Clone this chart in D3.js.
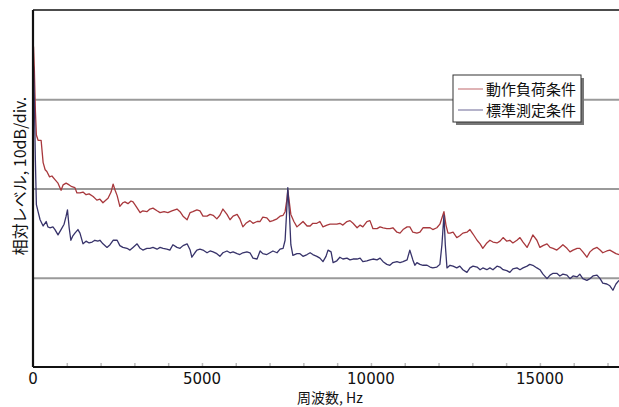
<!DOCTYPE html>
<html>
<head>
<meta charset="utf-8">
<script src="https://cdn.jsdelivr.net/npm/d3@7"></script>
<style>
  html, body { margin: 0; padding: 0; background: #fff; }
  svg { display: block; }
  text { font-family: "Noto Sans CJK JP", "Noto Sans", sans-serif; fill: #111; }
  .tick-label { font-family: "DejaVu Sans", sans-serif; }
  .grid line { stroke: #9a9a9a; stroke-width: 2; }
  .grid path { display: none; }
  .minor line { stroke: #bbb; stroke-width: 1.5; }
  .minor path { display: none; }
</style>
</head>
<body>
<div id="chart"></div>
<script>
// reference levels, dB (relative), frequency in Hz
const seriesNames = ['動作負荷条件', '標準測定条件'];

const loadFreq = [15, 40, 70, 100, 150, 240, 300, 360, 410, 490, 560, 650, 740, 830, 890, 980, 1070, 1150, 1240, 1300,
  1390, 1480, 1570, 1660, 1780, 1890, 1980, 2070, 2160, 2220, 2310, 2370, 2430, 2490, 2570, 2660, 2720, 2810, 2900, 2960,
  3050, 3170, 3250, 3370, 3460, 3550, 3670, 3760, 3880, 3990, 4110, 4260, 4350, 4440, 4560, 4650, 4730, 4850, 4940, 5030,
  5150, 5240, 5330, 5440, 5530, 5620, 5740, 5830, 5920, 6040, 6120, 6210, 6300, 6420, 6510, 6630, 6720, 6800, 6920, 7010,
  7100, 7220, 7310, 7400, 7460, 7510, 7540, 7570, 7630, 7720, 7810, 7900, 7990, 8110, 8200, 8280, 8400, 8490, 8580, 8700,
  8790, 8880, 8990, 9080, 9170, 9290, 9380, 9470, 9590, 9680, 9760, 9880, 9970, 10060, 10180, 10270, 10360, 10470, 10560, 10650,
  10770, 10860, 10950, 11070, 11150, 11240, 11360, 11450, 11540, 11660, 11750, 11830, 11950, 12040, 12100, 12160, 12220, 12280, 12340, 12430,
  12540, 12630, 12720, 12840, 12930, 13020, 13140, 13230, 13310, 13430, 13520, 13610, 13730, 13820, 13910, 14020, 14110, 14200, 14320, 14410,
  14500, 14620, 14700, 14790, 14910, 15000, 15090, 15210, 15300, 15390, 15500, 15590, 15680, 15800, 15890, 15980, 16100, 16180, 16270, 16390,
  16480, 16570, 16690, 16780, 16860, 16980, 17070, 17160, 17250, 17340];
const loadLevel = [35.9, 33.3, 28.8, 26.0, 25.4, 25.4, 22.9, 22.1, 21.9, 21.3, 21.4, 21.0, 20.6, 19.8, 20.4, 20.6, 20.4, 20.2, 20.1, 19.5,
  19.5, 19.6, 19.3, 19.4, 19.1, 18.7, 18.8, 18.4, 18.7, 18.9, 19.6, 20.5, 19.8, 19.2, 18.0, 18.4, 18.5, 18.3, 18.6, 18.5,
  18.0, 17.3, 17.5, 17.4, 17.7, 17.8, 17.5, 17.3, 17.4, 17.3, 17.5, 17.7, 17.4, 16.9, 16.5, 17.3, 17.4, 17.6, 17.5, 16.9,
  16.9, 17.1, 17.0, 16.6, 17.0, 17.7, 17.1, 16.5, 16.9, 17.1, 16.6, 15.7, 16.1, 16.4, 16.1, 16.3, 16.3, 16.8, 16.7, 16.3,
  16.4, 16.6, 16.9, 17.0, 17.4, 18.7, 19.8, 18.9, 17.1, 16.3, 15.7, 16.0, 16.3, 15.8, 15.8, 16.1, 16.1, 16.3, 15.7, 15.9,
  16.0, 16.0, 16.0, 16.1, 15.9, 16.3, 16.4, 16.1, 15.6, 15.9, 15.7, 16.3, 16.4, 15.5, 15.5, 15.7, 15.6, 15.5, 15.5, 15.6,
  15.1, 15.0, 15.4, 15.7, 15.7, 15.1, 15.0, 15.1, 15.6, 15.6, 15.6, 15.4, 15.6, 16.0, 16.7, 17.4, 15.9, 15.0, 15.0, 15.1,
  14.5, 14.7, 15.0, 15.1, 15.4, 14.9, 14.2, 13.8, 13.3, 13.9, 14.2, 14.0, 13.9, 14.1, 14.5, 14.1, 14.2, 13.9, 14.2, 14.5,
  14.0, 13.4, 14.0, 14.8, 14.2, 13.4, 13.6, 13.8, 13.4, 13.3, 13.1, 13.4, 13.7, 13.3, 12.9, 13.1, 13.3, 13.3, 12.9, 12.3,
  12.9, 13.2, 13.4, 13.1, 12.8, 13.0, 13.1, 12.9, 12.7, 12.6];

const stdFreq = [15, 40, 70, 100, 150, 210, 300, 390, 440, 500, 590, 650, 740, 830, 920, 980, 1020, 1070, 1120, 1180,
  1240, 1330, 1390, 1480, 1570, 1660, 1750, 1830, 1920, 1980, 2070, 2190, 2280, 2370, 2490, 2570, 2660, 2780, 2870, 2960,
  3080, 3170, 3250, 3370, 3460, 3550, 3670, 3760, 3850, 3960, 4050, 4140, 4260, 4350, 4440, 4560, 4650, 4700, 4790, 4850,
  4940, 5030, 5150, 5240, 5330, 5440, 5530, 5620, 5740, 5830, 5920, 6040, 6120, 6210, 6330, 6420, 6510, 6630, 6720, 6800,
  6920, 7010, 7100, 7220, 7310, 7400, 7460, 7500, 7540, 7590, 7630, 7690, 7810, 7900, 7990, 8110, 8200, 8280, 8400, 8490,
  8580, 8670, 8730, 8820, 8880, 8990, 9080, 9170, 9290, 9380, 9470, 9590, 9680, 9760, 9880, 9970, 10060, 10180, 10270, 10360,
  10470, 10560, 10650, 10770, 10860, 10950, 11070, 11150, 11240, 11300, 11360, 11450, 11540, 11660, 11750, 11830, 11950, 12040, 12100, 12160,
  12200, 12250, 12340, 12430, 12540, 12630, 12720, 12840, 12930, 13020, 13140, 13230, 13310, 13430, 13520, 13610, 13730, 13820, 13910, 14020,
  14110, 14200, 14320, 14410, 14500, 14620, 14700, 14790, 14910, 15000, 15090, 15210, 15300, 15390, 15500, 15590, 15680, 15800, 15890, 15980,
  16100, 16180, 16270, 16390, 16480, 16570, 16690, 16780, 16860, 16980, 17070, 17160, 17250, 17340];
const stdLevel = [33.7, 29.9, 23.2, 18.2, 17.4, 16.5, 15.8, 16.3, 15.7, 15.6, 15.7, 15.4, 14.8, 15.4, 16.0, 16.9, 17.6, 15.6, 14.2, 14.7,
  15.0, 15.4, 15.0, 13.8, 14.1, 13.9, 14.0, 14.2, 14.1, 14.2, 13.8, 13.4, 13.7, 14.2, 14.2, 13.6, 13.4, 13.3, 13.1, 13.4,
  13.8, 13.3, 13.1, 13.3, 13.3, 13.4, 13.2, 13.4, 13.3, 13.2, 13.1, 13.7, 13.4, 13.3, 13.6, 13.8, 13.1, 12.3, 12.8, 13.1,
  13.2, 13.1, 12.8, 13.0, 12.9, 12.7, 12.4, 12.8, 13.0, 12.8, 12.9, 12.7, 12.6, 12.8, 12.9, 12.8, 12.2, 12.1, 13.0, 12.7,
  12.6, 12.8, 13.0, 12.8, 13.2, 13.3, 14.2, 17.0, 20.1, 17.0, 13.7, 12.5, 12.7, 12.7, 12.4, 12.6, 12.8, 12.6, 12.4, 12.2,
  11.8, 12.4, 13.1, 12.9, 11.7, 11.9, 12.3, 12.1, 12.2, 12.0, 12.1, 12.1, 12.2, 11.8, 11.9, 12.0, 12.1, 12.0, 12.2, 11.8,
  11.5, 11.4, 11.7, 11.8, 11.7, 11.8, 12.0, 13.1, 12.0, 11.4, 11.7, 11.5, 11.4, 11.4, 11.2, 11.1, 11.2, 11.5, 13.7, 17.0,
  13.7, 11.1, 11.4, 11.3, 11.1, 11.3, 10.9, 10.6, 11.1, 11.3, 11.2, 10.9, 11.1, 10.9, 11.1, 10.9, 11.3, 11.2, 10.9, 10.8,
  10.6, 11.0, 11.1, 10.9, 11.1, 11.3, 11.5, 11.4, 11.1, 10.9, 10.4, 9.9, 10.3, 10.5, 10.5, 10.2, 10.4, 10.3, 9.9, 10.2,
  10.1, 10.4, 9.9, 9.7, 9.9, 10.2, 10.3, 9.9, 9.4, 9.3, 9.1, 8.6, 9.3, 9.7];

const xTickLabels = [0, 5000, 10000, 15000];
const xMinorTicks = [1000, 2000, 3000, 4000, 5000, 6000, 7000, 8000, 9000, 10000, 11000, 12000, 13000, 14000, 15000, 16000, 17000];
const yGridLines = [10, 20, 30];
const yDomain = [0, 40];
const xDomain = [0, 17340];

const width = 619;
const height = 407;
const margin = { top: 10, right: 0, bottom: 40, left: 33 };
const innerW = width - margin.left - margin.right;
const innerH = height - margin.top - margin.bottom;

const svg = d3.select('#chart')
  .append('svg')
  .attr('width', width)
  .attr('height', height);

const defs = svg.append('defs');
defs.append('filter')
  .attr('id', 'soft')
  .append('feGaussianBlur')
  .attr('stdDeviation', 0.35);

const g = svg.append('g')
  .attr('transform', 'translate(' + margin.left + ',' + margin.top + ')');

const x = d3.scaleLinear().domain(xDomain).range([0, innerW]);
const y = d3.scaleLinear().domain(yDomain).range([innerH, 0]);

// horizontal grid
g.append('g')
  .attr('class', 'grid')
  .call(d3.axisLeft(y).tickValues(yGridLines).tickSize(-innerW).tickFormat(''));

// small ticks on the bottom edge
g.append('g')
  .attr('class', 'minor')
  .attr('transform', 'translate(0,' + innerH + ')')
  .call(d3.axisBottom(x).tickValues(xMinorTicks).tickSize(-4).tickFormat(''));

const line = d3.line()
  .x(d => x(d[0]))
  .y(d => y(d[1]));

const loadData = loadFreq.map((f, i) => [f, loadLevel[i]]);
const stdData = stdFreq.map((f, i) => [f, stdLevel[i]]);

g.append('path')
  .datum(loadData)
  .attr('fill', 'none')
  .attr('stroke', '#a8383c')
  .attr('stroke-width', 1.3)
  .attr('stroke-linejoin', 'round')
  .attr('filter', 'url(#soft)')
  .attr('d', line);

g.append('path')
  .datum(stdData)
  .attr('fill', 'none')
  .attr('stroke', '#37336a')
  .attr('stroke-width', 1.3)
  .attr('stroke-linejoin', 'round')
  .attr('filter', 'url(#soft)')
  .attr('d', line);

// frame: top, left, bottom
g.append('line')
  .attr('x1', 0).attr('x2', innerW)
  .attr('y1', 0).attr('y2', 0)
  .attr('stroke', '#111').attr('stroke-width', 1.6);
g.append('line')
  .attr('x1', 0).attr('x2', 0)
  .attr('y1', 0).attr('y2', innerH)
  .attr('stroke', '#111').attr('stroke-width', 2.2);
g.append('line')
  .attr('x1', 0).attr('x2', innerW)
  .attr('y1', innerH).attr('y2', innerH)
  .attr('stroke', '#111').attr('stroke-width', 2.2);

// tick labels
g.append('g')
  .selectAll('text')
  .data(xTickLabels)
  .enter()
  .append('text')
  .attr('class', 'tick-label')
  .attr('x', d => x(d))
  .attr('y', innerH + 16.5)
  .attr('text-anchor', 'middle')
  .style('font-size', '15px')
  .text(d => d);

// axis titles
svg.append('text')
  .attr('x', 330)
  .attr('y', 403)
  .attr('text-anchor', 'middle')
  .style('font-size', '14px')
  .text('周波数, Hz');

svg.append('text')
  .attr('transform', 'translate(26,176) rotate(-90)')
  .attr('text-anchor', 'middle')
  .style('font-size', '16px')
  .text('相対レベル, 10dB/div.');

// legend
const legend = svg.append('g').attr('transform', 'translate(453,75)');
legend.append('rect')
  .attr('x', 3).attr('y', 3)
  .attr('width', 128).attr('height', 47)
  .attr('fill', '#777');
legend.append('rect')
  .attr('width', 128).attr('height', 47)
  .attr('fill', '#fff')
  .attr('stroke', '#333')
  .attr('stroke-width', 1);

const legendColors = ['#d49a9c', '#9c9ab8'];
seriesNames.forEach((name, i) => {
  const row = legend.append('g').attr('transform', 'translate(0,' + (14 + i * 21) + ')');
  row.append('line')
    .attr('x1', 5).attr('x2', 30)
    .attr('stroke', legendColors[i])
    .attr('stroke-width', 1.5);
  row.append('text')
    .attr('x', 33)
    .attr('y', 5.5)
    .style('font-size', '15px')
    .text(name);
});
</script>
</body>
</html>
